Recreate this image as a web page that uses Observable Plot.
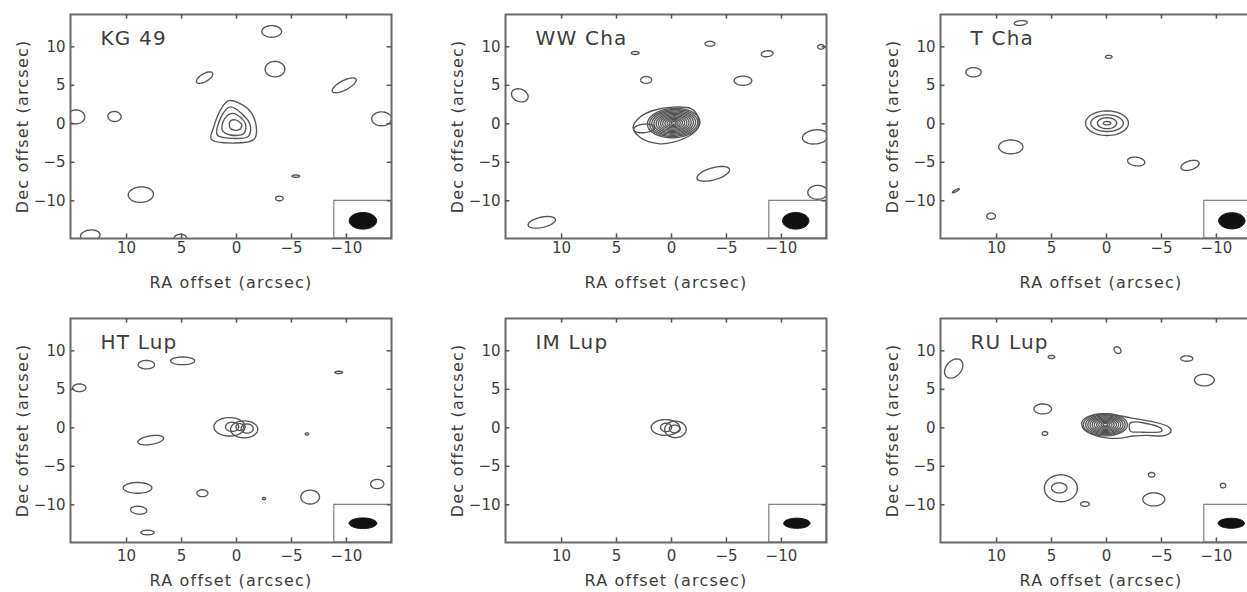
<!DOCTYPE html>
<html><head><meta charset="utf-8">
<script src="https://cdn.jsdelivr.net/npm/d3@7"></script>
<script src="https://cdn.jsdelivr.net/npm/@observablehq/plot@0.6"></script>
<style>
html,body{margin:0;padding:0;background:#fff;overflow:hidden;}
#wrap{position:relative;width:1247px;height:592px;overflow:hidden;background:#fff;}
.panel{position:absolute;}
</style></head><body><div id="wrap"></div>
<script>
// ---- data ----
const names = ["KG 49", "WW Cha", "T Cha", "HT Lup", "IM Lup", "RU Lup"];
const ticks = [10, 5, 0, -5, -10];
const xDomain = [15.1, -14.1];
const yDomain = [-14.9, 14.2];
const beamBox = [-8.9, -10]; // box corner (RA, Dec)

// contour ellipses: [ra, dec, semi-axis along tilt, semi-axis across, tilt deg]
const kg49Ellipses = [
  [-3.2, 12.0, 0.9, 0.75, 0], [-3.5, 7.1, 0.9, 1.0, 0], [2.9, 6.0, 0.95, 0.45, 45],
  [-9.8, 5.0, 1.35, 0.55, 40], [-13.2, 0.65, 0.9, 0.9, 0], [14.6, 0.9, 0.8, 0.9, 0],
  [11.1, 0.95, 0.6, 0.65, 10], [8.7, -9.2, 1.15, 1.0, 10], [-5.4, -6.8, 0.35, 0.15, 0],
  [-3.9, -9.7, 0.35, 0.3, 0], [13.3, -14.5, 0.9, 0.7, 15], [5.1, -14.8, 0.55, 0.45, 0]
];
const kg49Polys = [
  [[0.7, 3.0], [-1.0, 2.0], [-1.75, 0.05], [-1.6, -2.0], [0.25, -2.5], [2.3, -2.0], [2.07, -0.4], [1.45, 1.8]],
  [[0.55, 2.2], [-1.2, 0.05], [-1.1, -1.6], [0.4, -1.9], [1.75, -1.45], [1.3, 1.15]],
  [[0.3, 1.35], [-0.8, 0.05], [-0.67, -1.25], [0.55, -1.45], [1.3, -0.8], [1.06, 0.7]],
  [[0.1, 0.5], [-0.5, -0.15], [-0.2, -0.8], [0.55, -0.6], [0.6, 0.3]]
];
const kg49Beam = [-11.5, -12.6, 1.25, 1.08, 0];

const wwEllipses = [
  [13.8, 3.7, 0.7, 0.9, 30], [3.3, 9.2, 0.35, 0.2, 0], [2.3, 5.7, 0.5, 0.45, 0],
  [-3.5, 10.4, 0.45, 0.32, 0], [-8.7, 9.1, 0.55, 0.38, 15], [-6.5, 5.6, 0.8, 0.6, 0],
  [-13.6, 10.0, 0.3, 0.3, 0], [-13.1, -1.7, 1.2, 0.9, 15], [-3.8, -6.5, 1.6, 0.75, 25],
  [-13.3, -8.9, 0.9, 0.9, 0], [11.8, -12.8, 1.3, 0.65, 20], [2.5, -0.6, 0.95, 0.55, 10],
  [-0.2, 0.1, 2.4, 1.9, 8], [-0.2, 0.1, 2.2, 1.74, 8], [-0.2, 0.1, 2.0, 1.58, 8],
  [-0.2, 0.1, 1.8, 1.42, 8], [-0.2, 0.1, 1.6, 1.26, 8], [-0.2, 0.1, 1.4, 1.1, 8],
  [-0.2, 0.1, 1.2, 0.94, 8], [-0.2, 0.1, 1.0, 0.78, 8], [-0.2, 0.1, 0.8, 0.62, 8],
  [-0.2, 0.1, 0.6, 0.46, 8], [-0.2, 0.1, 0.4, 0.3, 8], [-0.2, 0.1, 0.22, 0.16, 8]
];
const wwPolys = [
  [[3.49, -0.44], [2.88, 0.86], [1.67, 1.73], [-0.15, 2.16], [-1.82, 1.95], [-2.42, 0.86],
   [-2.42, -0.44], [-1.66, -1.52], [-0.15, -2.39], [1.06, -2.6], [2.88, -1.74]]
];
const wwBeam = [-11.3, -12.6, 1.2, 1.08, 0];

const tchaEllipses = [
  [-0.05, 0.08, 1.95, 1.6, 0], [-0.05, 0.08, 1.48, 1.08, 0], [-0.05, 0.08, 0.88, 0.71, 0],
  [-0.05, 0.08, 0.35, 0.22, 0], [12.1, 6.7, 0.7, 0.6, 0], [7.8, 13.1, 0.6, 0.3, 10],
  [-0.2, 8.7, 0.3, 0.2, 0], [8.7, -3.0, 1.1, 0.9, 0], [-2.7, -4.9, 0.8, 0.55, -15],
  [-7.6, -5.4, 0.9, 0.55, 30], [13.7, -8.7, 0.4, 0.1, 40], [10.5, -12.0, 0.4, 0.4, -20]
];
const tchaPolys = [];
const tchaBeam = [-11.4, -12.6, 1.2, 1.05, 0];

const htEllipses = [
  [0.64, 0.13, 1.42, 1.2, 0], [-0.7, -0.2, 1.24, 1.1, 0], [0.4, 0.13, 0.6, 0.6, 0],
  [-0.97, -0.1, 0.55, 0.6, 0], [-0.3, 0.1, 0.35, 0.45, 0], [8.2, 8.2, 0.75, 0.55, 0],
  [4.9, 8.7, 1.1, 0.5, 0], [14.3, 5.2, 0.6, 0.5, 0], [-9.3, 7.2, 0.35, 0.15, 0],
  [7.8, -1.6, 1.2, 0.55, 15], [-6.4, -0.8, 0.15, 0.15, 0], [9.0, -7.8, 1.3, 0.7, 0],
  [8.9, -10.7, 0.75, 0.5, -10], [8.1, -13.6, 0.6, 0.3, 0], [3.1, -8.5, 0.5, 0.45, 0],
  [-2.5, -9.2, 0.15, 0.15, 0], [-6.7, -9.0, 0.85, 0.9, 0], [-12.8, -7.3, 0.6, 0.6, 30]
];
const htPolys = [];
const htBeam = [-11.5, -12.4, 1.26, 0.69, 0];

const imEllipses = [
  [0.55, 0.04, 1.29, 1.03, 0], [-0.36, -0.2, 0.98, 1.07, 0],
  [0.5, 0.05, 0.5, 0.55, 0], [-0.3, -0.15, 0.5, 0.5, 0]
];
const imPolys = [];
const imBeam = [-11.4, -12.4, 1.2, 0.66, 0];

const ruEllipses = [
  [0.1, 0.4, 2.0, 1.45, 0], [0.1, 0.4, 1.8, 1.3, 0], [0.1, 0.4, 1.6, 1.16, 0],
  [0.1, 0.4, 1.4, 1.02, 0], [0.1, 0.4, 1.2, 0.88, 0], [0.1, 0.4, 1.0, 0.74, 0],
  [0.1, 0.4, 0.8, 0.6, 0], [0.1, 0.4, 0.6, 0.45, 0], [0.1, 0.4, 0.4, 0.3, 0],
  [0.1, 0.4, 0.22, 0.16, 0],
  [13.9, 7.7, 0.75, 1.3, -20], [5.0, 9.2, 0.3, 0.2, 0], [-1.0, 10.1, 0.3, 0.45, 20],
  [-7.3, 9.0, 0.55, 0.35, 0], [-8.9, 6.2, 0.9, 0.75, 0], [5.8, 2.45, 0.8, 0.65, 0],
  [5.6, -0.73, 0.25, 0.25, 0], [-4.1, -6.1, 0.3, 0.3, 0], [4.15, -7.85, 1.5, 1.75, 0],
  [4.3, -7.8, 0.7, 0.65, 0], [1.96, -9.9, 0.4, 0.3, 0], [-4.3, -9.3, 1.0, 0.85, 0],
  [-10.6, -7.5, 0.25, 0.3, 0]
];
const ruPolys = [
  [[2.2, 0.86], [1.15, 1.71], [-0.66, 1.71], [-2.17, 1.29], [-3.97, 0.86], [-5.63, 0.13],
   [-5.87, -0.43], [-5.33, -0.99], [-3.68, -0.99], [-2.47, -1.07], [-0.97, -1.37],
   [0.84, -1.07], [2.05, -0.21]],
  [[-2.17, 0.64], [-4.88, 0.0], [-5.03, -0.43], [-3.07, -0.56], [-2.17, -0.43]]
];
const ruBeam = [-11.35, -12.4, 1.2, 0.65, 0];

const panelEllipses = [kg49Ellipses, wwEllipses, tchaEllipses, htEllipses, imEllipses, ruEllipses];
const panelPolys = [kg49Polys, wwPolys, tchaPolys, htPolys, imPolys, ruPolys];
const panelBeams = [kg49Beam, wwBeam, tchaBeam, htBeam, imBeam, ruBeam];

// ---- geometry helpers (shapes from the parameters above) ----
function ellipsePoints(list) {
  const out = [];
  list.forEach(([cx, cy, a, b, tilt], id) => {
    const r = tilt * Math.PI / 180, n = 56;
    for (let k = 0; k < n; k++) {
      const t = 2 * Math.PI * k / n;
      out.push({id, x: cx - a * Math.cos(t) * Math.cos(r) + b * Math.sin(t) * Math.sin(r),
                    y: cy + a * Math.cos(t) * Math.sin(r) + b * Math.sin(t) * Math.cos(r)});
    }
  });
  return out;
}
function polyPoints(list) {
  const out = [];
  list.forEach((p, id) => p.forEach(([x, y]) => out.push({id, x, y})));
  return out;
}
const fmt = d => d < 0 ? "\u2212" + (-d) : String(d);

const ink = "#555";
const txt = "#3c3c3c";
const wrap = document.getElementById("wrap");
names.forEach((name, i) => {
  const row = Math.floor(i / 3), col = i % 3;
  const plot = Plot.plot({
    width: 435, height: 304,
    marginLeft: 70, marginRight: 44, marginTop: 14, marginBottom: 66,
    x: {domain: xDomain, label: null},
    y: {domain: yDomain, label: null},
    style: {fontFamily: "DejaVu Sans, sans-serif", fontSize: "15px", color: txt, background: "transparent", overflow: "visible"},
    marks: [
      Plot.line(ellipsePoints(panelEllipses[i]), {x: "x", y: "y", z: "id", curve: "linear-closed", stroke: ink, strokeWidth: 1.35, clip: true}),
      Plot.line(polyPoints(panelPolys[i]), {x: "x", y: "y", z: "id", curve: "catmull-rom-closed", stroke: ink, strokeWidth: 1.35, clip: true}),
      Plot.rect([beamBox], {x1: d => d[0], x2: () => xDomain[1], y1: () => yDomain[0], y2: d => d[1], stroke: "#666", strokeWidth: 1, fill: "none"}),
      Plot.line(ellipsePoints([panelBeams[i]]), {x: "x", y: "y", z: "id", curve: "linear-closed", stroke: "#111", fill: "#111", strokeWidth: 1}),
      Plot.frame({stroke: "#6a6a6a", strokeWidth: 2}),
      Plot.ruleX(ticks, {x: d => d, y1: yDomain[0], y2: yDomain[0] + 0.6, stroke: "#555", strokeWidth: 1.5}),
      Plot.ruleX(ticks, {x: d => d, y1: yDomain[1], y2: yDomain[1] - 0.6, stroke: "#555", strokeWidth: 1.5}),
      Plot.ruleY(ticks, {y: d => d, x1: xDomain[0], x2: xDomain[0] - 0.4, stroke: "#555", strokeWidth: 1.5}),
      Plot.ruleY(ticks, {y: d => d, x1: xDomain[1], x2: xDomain[1] + 0.4, stroke: "#555", strokeWidth: 1.5}),
      Plot.axisX(ticks, {anchor: "bottom", tickSize: 0, tickPadding: row ? 8 : 4, fontSize: 15, label: null, tickFormat: fmt}),
      Plot.axisY(ticks, {anchor: "left", tickSize: 0, tickPadding: 5, fontSize: 15, label: null, tickFormat: fmt}),
      Plot.text([name], {frameAnchor: "top-left", dx: 30, dy: 24, textAnchor: "start", lineAnchor: "middle", fontSize: 20, fill: txt}),
      Plot.text(["RA offset (arcsec)"], {frameAnchor: "bottom", dy: row ? 38 : 44, textAnchor: "middle", lineAnchor: "middle", fontSize: 16, fill: txt}),
      Plot.text(["Dec offset (arcsec)"], {frameAnchor: "left", dx: -48, rotate: -90, textAnchor: "middle", lineAnchor: "middle", fontSize: 16, fill: txt})
    ]
  });
  d3.select(plot).selectAll('g[aria-label="text"] text').style("letter-spacing", "1.2px");
  plot.classList.add("panel");
  plot.style.left = (col * 435) + "px";
  plot.style.top = (row * 304) + "px";
  wrap.appendChild(plot);
});
</script>
</body></html>
